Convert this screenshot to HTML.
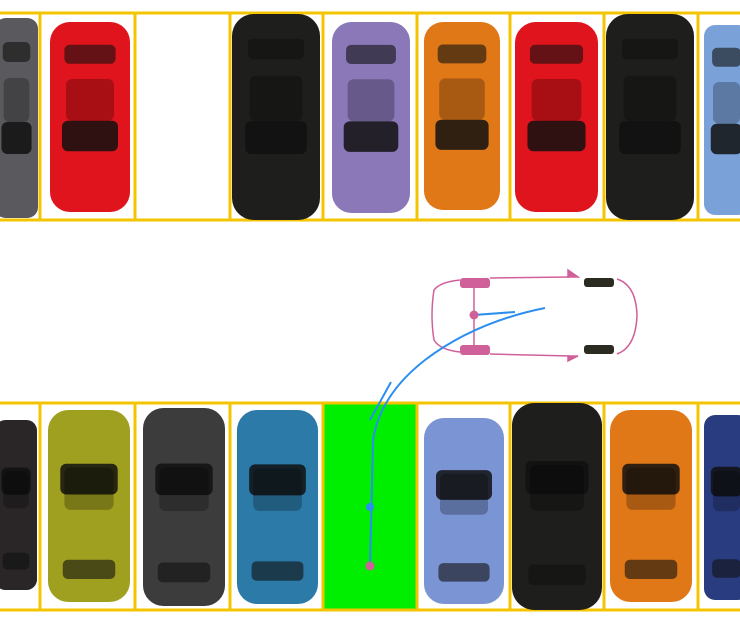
<!DOCTYPE html>
<html><head><meta charset="utf-8"><style>
html,body{margin:0;padding:0;background:#fff;width:740px;height:622px;overflow:hidden}
svg{display:block}
</style></head><body>
<svg id="s" width="740" height="622" viewBox="0 0 740 622">
<g id="slots"></g><g id="cars"></g>
<g fill="none" stroke="#d0609a" stroke-width="1.5">
<path d="M460 280 Q440 282 434 290 Q430 315 434 340 Q440 350 460 352"/>
<path d="M490 278 L570 277 M490 354 L570 356"/>
<path d="M617 279 Q636 285 637 315 Q636 347 617 354"/>
<line x1="474" y1="288" x2="474" y2="346"/>
<path d="M568 270 L578 277 L568 277Z M568 361 L578 356 L568 356Z" fill="#d0609a"/>
</g>
<rect x="460" y="278" width="30" height="10" rx="3" fill="#d0609a"/>
<rect x="460" y="345" width="30" height="10" rx="3" fill="#d0609a"/>
<rect x="584" y="278" width="30" height="9" rx="3" fill="#2b2b22"/>
<rect x="584" y="345" width="30" height="9" rx="3" fill="#2b2b22"/>
<path d="M474 315 L515 312 M545 308 Q475 322 425 360 Q380 395 373 440 L370 566 M370 420 L391 382" fill="none" stroke="#2a8ff0" stroke-width="2"/>
<circle cx="474" cy="315" r="4.5" fill="#d0609a"/>
<circle cx="370" cy="507" r="4" fill="#2a8ff0"/>
<circle cx="370" cy="566" r="4.5" fill="#d0609a"/>
</svg>
<script>
const NS='http://www.w3.org/2000/svg';
const slotX=[40,135,230,323,417,510,604,698];
const topColors=['#5a5a5e','#e0141c','','#1e1e1c','#8a78b8','#e07818','#e0141c','#1e1e1c','#7aa2d8'];
const botColors=['#2a2628','#a0a020','#3c3c3c','#2c7aa8','green','#7a94d4','#1e1e1c','#e07818','#2a3c80'];
const topBox=[[-5,18,43,200],[50,22,80,190],null,[232,14,88,206],[332,22,78,191],[424,22,76,188],[515,22,83,190],[606,14,88,206],[704,25,45,190]];
const botBox=[[-5,420,42,170],[48,410,82,192],[143,408,82,198],[237,410,81,194],null,[424,418,80,186],[512,403,90,207],[610,410,82,192],[704,415,45,185]];
const slots=document.getElementById('slots'),cars=document.getElementById('cars');
function mk(t,a,p){const e=document.createElementNS(NS,t);for(const k in a)e.setAttribute(k,a[k]);p.appendChild(e);return e;}
const g=mk('rect',{x:323,y:403,width:94,height:207,fill:'#00ee00'},slots);


[[13,220],[403,610]].forEach(([y0,y1],r)=>{
  [y0,y1].forEach(y=>{const l=mk('line',{x1:0,x2:740,y1:y,y2:y,stroke:'#f5c400','stroke-width':3},slots);
  
  });
  slotX.forEach(x=>{const l=mk('line',{x1:x,x2:x,y1:y0,y2:y1,stroke:'#f5c400','stroke-width':3},slots);
  
  });
});
function car(b,c,top){
  if(!b)return;
  const [x,y,w,h]=b;
  const grp=mk('g',{},cars);
  
  
  mk('rect',{x:x,y:y,width:w,height:h,rx:w*0.25,fill:c},grp);
  const wy=top?y+h*0.52:y+h*0.28;
  mk('rect',{x:x+w*0.15,y:wy,width:w*0.7,height:h*0.16,rx:6,fill:'#111',opacity:0.85},grp);
  const ry=top?y+h*0.12:y+h*0.78;
  mk('rect',{x:x+w*0.18,y:ry,width:w*0.64,height:h*0.1,rx:5,fill:'#111',opacity:0.6},grp);
  mk('rect',{x:x+w*0.2,y:y+h*0.3,width:w*0.6,height:h*0.22,rx:6,fill:'#000',opacity:0.25},grp);
}
topColors.forEach((c,i)=>car(topBox[i],c,true));
botColors.forEach((c,i)=>car(botBox[i],c,false));
</script>
</body></html>
